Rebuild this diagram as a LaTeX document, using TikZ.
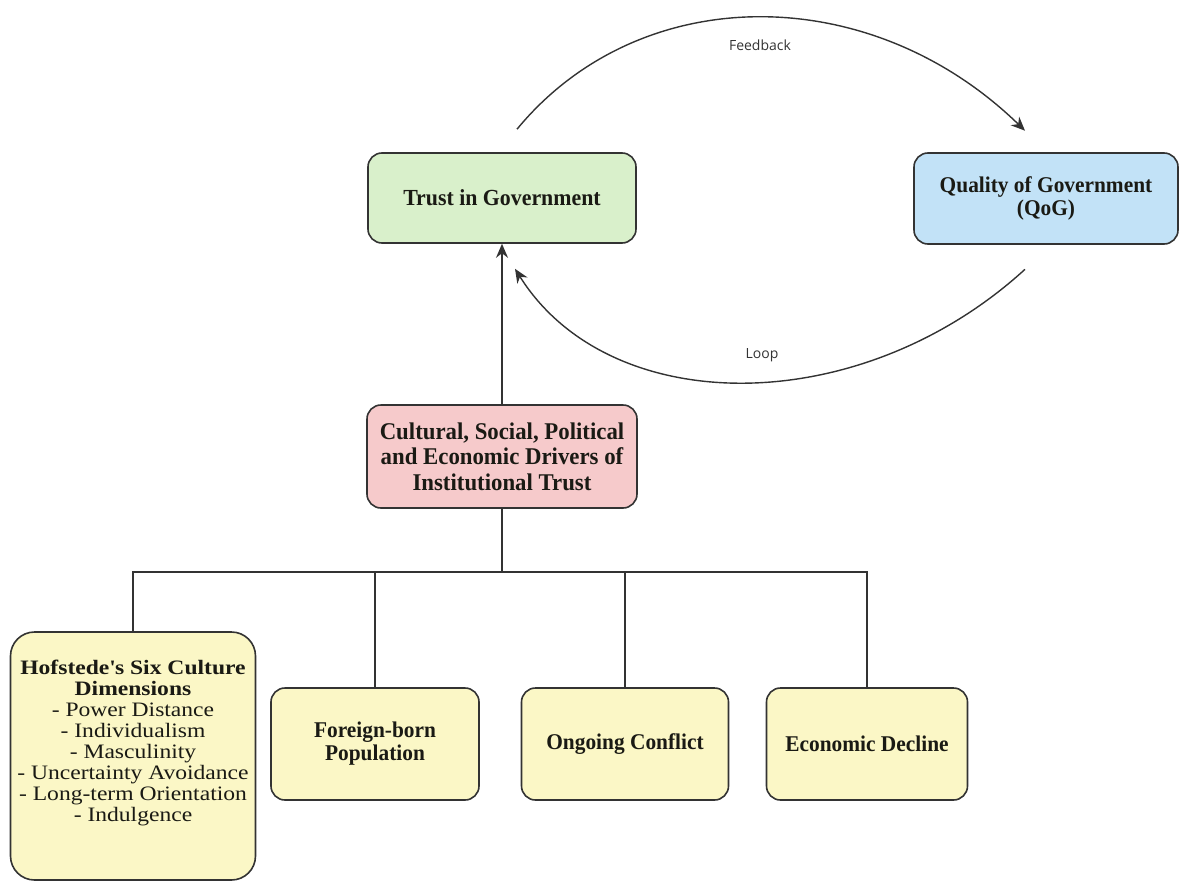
\documentclass[tikz,border=0pt]{standalone}
\usepackage{fontspec}
\setmainfont[FakeStretch=0.95]{Liberation Serif}
\newfontfamily\widefont[FakeStretch=1.15]{Liberation Serif}
\newfontfamily\labelfont{Open Sans}
\usetikzlibrary{arrows.meta,calc}

\definecolor{trustgreen}{HTML}{D9F0CB}
\definecolor{qogblue}{HTML}{C2E2F7}
\definecolor{driverpink}{HTML}{F6CACB}
\definecolor{factoryellow}{HTML}{FBF7C6}
\definecolor{edgegray}{HTML}{333333}
\definecolor{textdark}{HTML}{1A1A14}

\begin{document}
\begin{tikzpicture}[x=1pt, y=1pt, >={Stealth[length=14pt, width=12pt]},
          every node/.style = {shape=rectangle, rounded corners=14pt,
          draw=edgegray, line width=1.6pt, align=center, text=textdark,
          font=\fontsize{22.5}{23}\selectfont\bfseries},
          link/.style = {draw=edgegray, line width=1.4pt},
          curvelabel/.style = {draw=none, text=edgegray,
          font=\labelfont\fontsize{14}{15}\selectfont}]
          \tikzstyle{level 1}=[level distance=258.5pt, edge from parent/.style={link, <-}]
          \tikzstyle{level 2}=[level distance=287.5pt, sibling distance=246pt,
            edge from parent/.style={link},
            edge from parent path={(\tikzparentnode.south) |- (\tikzchildnode |- bus) -- (\tikzchildnode.north)}]
        \useasboundingbox (0,0) rectangle (1179,-881);
        \coordinate (bus) at (0,-572);
        \node[fill=qogblue, minimum width=264pt, minimum height=91pt] (qog) at (1046,-198.5)
          {Quality of Government\\(QoG)};
        \node[fill=trustgreen, minimum width=268pt, minimum height=90pt,
            font=\fontsize{23}{25}\selectfont\bfseries] (trust) at (502,-198)
          {Trust in Government}
          child { node[fill=driverpink, minimum width=270pt, minimum height=103pt,
              font=\fontsize{24}{25.5}\selectfont\bfseries] (drivers)
              {Cultural, Social, Political\\and Economic Drivers of\\Institutional Trust}
            child {node[fill=factoryellow, yshift=-12pt, minimum width=245pt, minimum height=248pt,
                rounded corners=24pt, text depth=30pt, font=\widefont\fontsize{20.5}{21}\selectfont] (hofstede)
                {\textbf{Hofstede\textquotesingle s Six Culture}\\\textbf{Dimensions}\\- Power Distance\\- Individualism\\- Masculinity\\- Uncertainty Avoidance\\- Long-term Orientation\\- Indulgence}}
            child {node[fill=factoryellow, xshift=-4pt, minimum width=208pt, minimum height=112pt] (foreign)
                {Foreign-born\\Population}}
            child {node[fill=factoryellow, minimum width=207pt, minimum height=112pt] (conflict)
                {Ongoing Conflict}}
            child {node[fill=factoryellow, xshift=-4pt, minimum width=201pt, minimum height=112pt] (decline)
                {Economic Decline}}
          };
        % feedback loop between trust and QoG
        \draw[link, ->] ($(trust.north)+(15,23)$) .. controls (640,20) and (870,20) .. ($(qog.north)+(-21,21.5)$);
        \draw[link, ->] ($(qog.south)+(-21,-24.5)$) .. controls (860,-420) and (610,-420) .. ($(trust.south)+(13,-25)$);
        \node[curvelabel] (fblabel) at (760,-45) {Feedback};
        \node[curvelabel] (looplabel) at (762,-355) {Loop};
      \end{tikzpicture}
\end{document}
